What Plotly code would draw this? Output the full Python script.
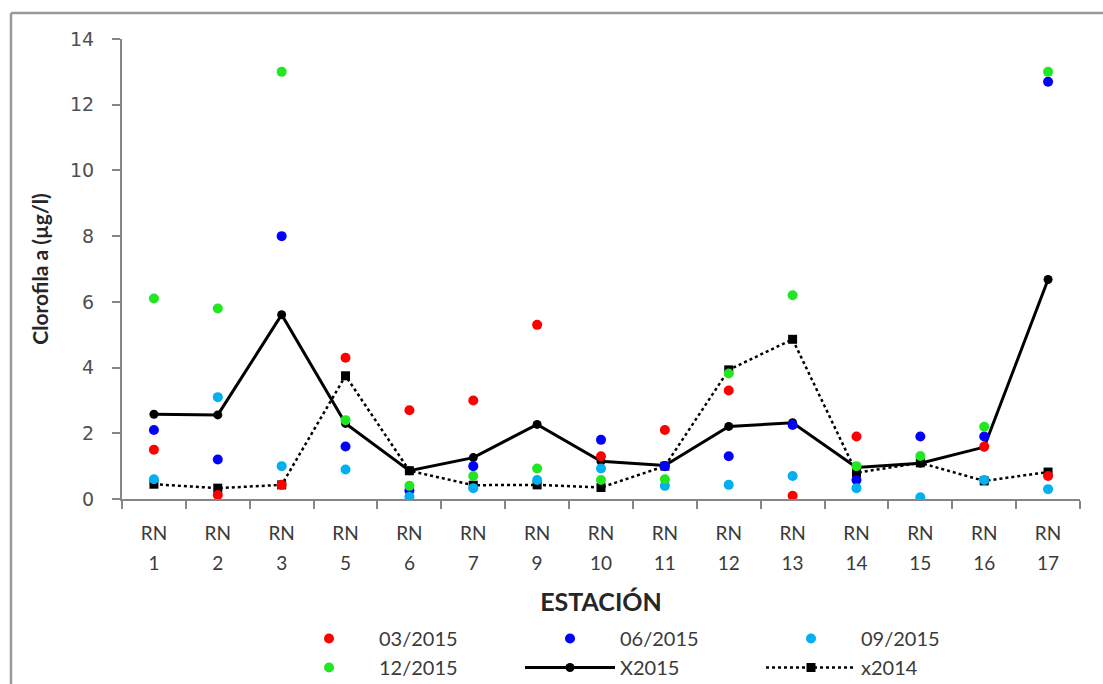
import plotly.graph_objects as go

# Sampling stations along the river
stations = ["RN 1", "RN 2", "RN 3", "RN 5", "RN 6", "RN 7", "RN 9", "RN 10",
            "RN 11", "RN 12", "RN 13", "RN 14", "RN 15", "RN 16", "RN 17"]
station_prefix = ["RN"] * len(stations)
station_numbers = ["1", "2", "3", "5", "6", "7", "9", "10", "11", "12", "13", "14", "15", "16", "17"]

# Chlorophyll a (µg/l) per campaign; None = no sample
chl_03_2015 = [1.5, 0.12, 0.43, 4.3, 2.7, 3.0, 5.3, 1.3, 2.1, 3.3, 0.1, 1.9, None, 1.6, 0.7]
chl_06_2015 = [2.1, 1.2, 8.0, 1.6, 0.26, 1.0, None, 1.8, 1.0, 1.3, 2.25, 0.58, 1.9, 1.9, 12.7]
chl_09_2015 = [0.6, 3.1, 1.0, 0.9, 0.07, 0.33, 0.58, 0.93, 0.4, 0.43, 0.7, 0.33, 0.05, 0.58, 0.3]
chl_12_2015 = [6.1, 5.8, 13.0, 2.4, 0.4, 0.7, 0.93, 0.58, 0.6, 3.82, 6.2, 1.0, 1.31, 2.2, 13.0]

# Annual means
mean_2015 = [2.58, 2.56, 5.61, 2.3, 0.86, 1.26, 2.27, 1.15, 1.02, 2.21, 2.32, 0.96, 1.09, 1.58, 6.68]
mean_2014 = [0.45, 0.33, 0.43, 3.75, 0.86, 0.42, 0.43, 0.35, 1.0, 3.93, 4.86, 0.8, 1.1, 0.55, 0.82]

y_ticks = [0, 2, 4, 6, 8, 10, 12, 14]

FONT = "Lato"
TXT = "#3a3a3a"
AXIS = "#868686"

fig = go.Figure()

# Mean lines first so the campaign dots sit on top of them
fig.add_trace(go.Scatter(
    x=stations, y=mean_2015, name="X2015", mode="lines+markers", legendrank=5,
    line=dict(color="black", width=3),
    marker=dict(symbol="circle", size=9, color="black")))
fig.add_trace(go.Scatter(
    x=stations, y=mean_2014, name="x2014", mode="lines+markers", legendrank=6,
    line=dict(color="black", width=2.5, dash="dot"),
    marker=dict(symbol="square", size=9, color="black")))

campaigns = [
    ("03/2015", chl_03_2015, "#FF0000", 1),
    ("06/2015", chl_06_2015, "#0000FF", 2),
    ("09/2015", chl_09_2015, "#00B0F0", 3),
    ("12/2015", chl_12_2015, "#22E622", 4),
]
for name, vals, color, rank in campaigns:
    fig.add_trace(go.Scatter(
        x=stations, y=vals, name=name, mode="markers", legendrank=rank,
        marker=dict(symbol="circle", size=10, color=color)))

W, H = 1103, 684
L, R, T, B = 122, 23, 39, 185
pw, ph = W - L - R, H - T - B

def px_x(x):
    return (x - L) / pw

def px_y(y):
    return (H - B - y) / ph

xrange_ = [-0.5, len(stations) - 0.5]

fig.update_layout(
    width=W, height=H,
    margin=dict(l=L, r=R, t=T, b=B, autoexpand=False),
    paper_bgcolor="white", plot_bgcolor="white",
    font=dict(family=FONT, color=TXT),
    showlegend=True,
    legend=dict(
        orientation="h", xref="container", yref="container",
        x=279 / W, xanchor="left", y=1 - 619 / H, yanchor="top",
        entrywidth=136, entrywidthmode="pixels", itemwidth=90,
        font=dict(family=FONT, size=20, color=TXT),
        bgcolor="rgba(0,0,0,0)", traceorder="normal"),
    # station axis: "RN" line of each label, ticks on category boundaries
    xaxis=dict(
        type="category", categoryorder="array", categoryarray=stations,
        tickmode="array", tickvals=stations, ticktext=station_prefix,
        tickson="boundaries", ticks="outside", ticklen=8, tickwidth=2, tickcolor=AXIS,
        showline=True, linecolor=AXIS, linewidth=2, showgrid=False, zeroline=False,
        range=xrange_, ticklabelstandoff=16,
        tickfont=dict(family=FONT, size=19, color=TXT)),
    # station numbers, second label line
    xaxis2=dict(
        type="category", categoryorder="array", categoryarray=stations,
        overlaying="x", anchor="y", side="bottom", matches="x",
        tickmode="array", tickvals=stations, ticktext=station_numbers,
        ticks="", showline=False, showgrid=False, zeroline=False,
        range=xrange_, ticklabelstandoff=51,
        tickfont=dict(family=FONT, size=19, color=TXT),
        title=dict(text="<b>ESTACIÓN</b>", font=dict(family=FONT, size=25, color="#262626"),
                   standoff=20)),
    yaxis=dict(
        range=[0, 14], tickmode="array", tickvals=y_ticks,
        ticks="outside", ticklen=8, tickwidth=2, tickcolor=AXIS,
        showline=True, linecolor=AXIS, linewidth=2, showgrid=False, zeroline=False,
        ticklabelstandoff=14,
        tickfont=dict(family="DejaVu Sans", size=19, color="#505050"),
        title=dict(text="<b>Clorofila a (µg/l)</b>", font=dict(family=FONT, size=21, color="#262626"),
                   standoff=16)),
    shapes=[
        # outer frame: top and left edges
        dict(type="line", xref="paper", yref="paper",
             x0=px_x(11), x1=px_x(W + 5), y0=px_y(13), y1=px_y(13),
             line=dict(color="#9a9a9a", width=2.5)),
        dict(type="line", xref="paper", yref="paper",
             x0=px_x(11), x1=px_x(11), y0=px_y(13), y1=px_y(H + 5),
             line=dict(color="#9a9a9a", width=2.5)),
    ],
)

# invisible trace so the second station axis is drawn
fig.add_trace(go.Scatter(x=stations, y=[None] * len(stations), xaxis="x2",
                         showlegend=False, hoverinfo="skip", mode="markers"))

fig.write_html("out.html")
